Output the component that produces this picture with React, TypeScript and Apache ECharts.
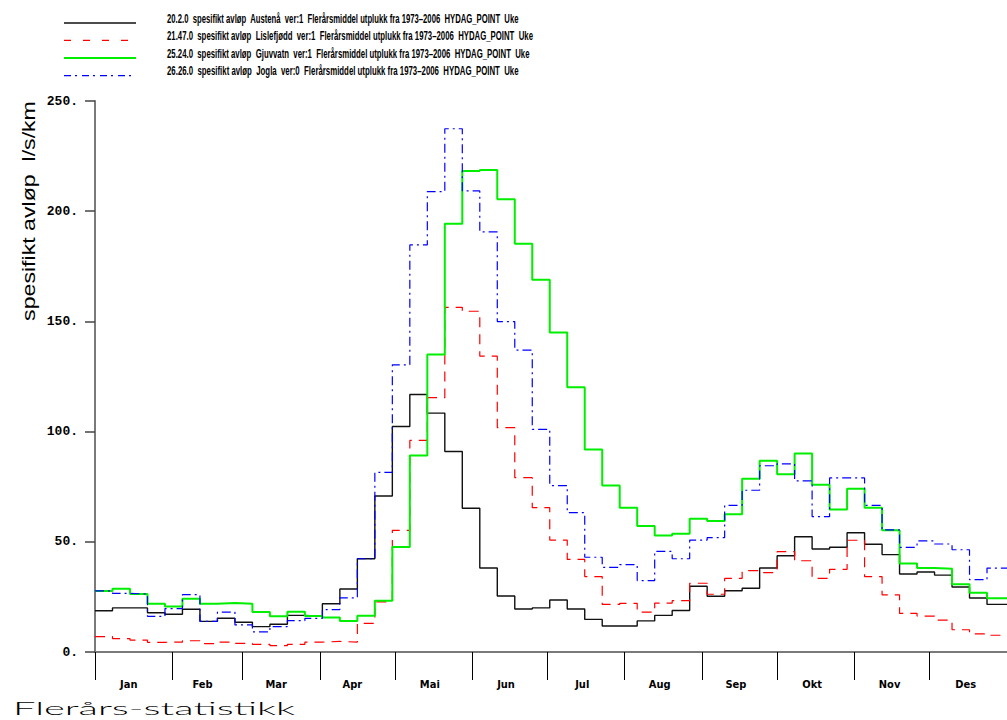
import React, { useEffect, useRef } from "react";
import * as echarts from "echarts";

// ---------- data ----------
const monthNames = ["Jan", "Feb", "Mar", "Apr", "Mai", "Jun", "Jul", "Aug", "Sep", "Okt", "Nov", "Des"];
const monthStartDays = [0, 31, 59, 90, 120, 151, 181, 212, 243, 273, 304, 334, 365];
const monthLabelDays = [13.5, 43, 72.5, 103, 134, 164.5, 195, 226, 256.5, 287, 318, 348.5];
const daysPerWeek = 7;
const yearDays = 365;

const seriesNames = [
  "20.2.0  spesifikt avløp  Austenå  ver:1  Flerårsmiddel utplukk fra 1973–2006  HYDAG_POINT  Uke",
  "21.47.0  spesifikt avløp  Lislefjødd  ver:1  Flerårsmiddel utplukk fra 1973–2006  HYDAG_POINT  Uke",
  "25.24.0  spesifikt avløp  Gjuvvatn  ver:1  Flerårsmiddel utplukk fra 1973–2006  HYDAG_POINT  Uke",
  "26.26.0  spesifikt avløp  Jogla  ver:0  Flerårsmiddel utplukk fra 1973–2006  HYDAG_POINT  Uke",
];

const austena = [18.7, 20, 20, 17.8, 17.1, 19.4, 13.9, 15.3, 13.5, 11.5, 12.6, 16.6, 16.3, 21.9, 28.6, 42.3, 70.8, 102.3, 116.8, 108.4, 91, 65.2, 38.1, 25.4, 19.5, 20, 23.6, 19.5, 14.8, 11.8, 11.8, 14.1, 16.6, 18.8, 29.8, 25.3, 27.8, 28.9, 38.1, 43.7, 52.3, 46.7, 47.5, 54.1, 48.9, 44.2, 35.4, 36.3, 34.9, 29.5, 24.5, 21.6];
const lislefjodd = [7, 6.1, 5.4, 4.4, 4.5, 5.1, 3.8, 4.5, 3.9, 3.5, 2.9, 3.5, 4.5, 4.8, 4.5, 13, 22.7, 55.2, 96, 115.4, 156.4, 154.6, 134.2, 101.8, 79.1, 65.5, 50.8, 42, 34.2, 21.6, 22.1, 18.1, 22.2, 23.3, 31.2, 26.2, 33.4, 36.9, 36, 45.5, 41.4, 33.4, 37.5, 50.7, 34.2, 25.9, 17.5, 16.3, 14.5, 10.1, 8.2, 7.6];
const gjuvvatn = [27.7, 28.7, 26.3, 21.9, 20.7, 24.2, 21.9, 22.2, 21.9, 18.1, 16.2, 18.3, 16.3, 15.7, 14.1, 16.5, 23.3, 47.6, 89.2, 135, 194.3, 218.2, 218.7, 205.4, 185.2, 168.9, 145, 120.1, 91.9, 75.5, 65.4, 57.2, 52.9, 53.7, 60.5, 59.4, 62.5, 78.6, 86.8, 80.6, 90.1, 75.9, 64.7, 74.1, 65.5, 55.2, 40.1, 38.1, 37.8, 30.7, 26.9, 24.4];
const jogla = [27.7, 26.6, 26.3, 16.2, 19.7, 26, 13.9, 18.1, 12.3, 9.1, 11.5, 14.2, 15.3, 19.2, 24.6, 42.3, 81.5, 130.3, 184.7, 208.9, 237.4, 209.2, 190.6, 149.9, 137, 101, 75.5, 63.2, 43, 38.4, 39.6, 32.4, 45.7, 42.3, 50.8, 51.9, 66.5, 73.4, 84.5, 85.4, 77.6, 61.4, 79, 79, 66.5, 55.4, 47.5, 50.4, 49, 46.4, 32.8, 38.1];

const yAxisTitle = "spesifikt avløp  l/s/km";
const bottomTitle = "Flerårs-statistikk";

// ---------- styles ----------
const seriesStyles = [
  { color: "#111111", width: 1.4, type: "solid" as any, legendDash: null as number[] | null },
  { color: "#ff0000", width: 1.2, type: [10, 7] as any, legendDash: [7, 12] },
  { color: "#00ee00", width: 2, type: "solid" as any, legendDash: null },
  { color: "#0000ff", width: 1.2, type: [9, 4, 2, 4] as any, legendDash: [7, 4, 2, 5] },
];

function measure(text: string, font: string): number {
  const ctx = document.createElement("canvas").getContext("2d");
  if (!ctx) return 1;
  ctx.font = font;
  return ctx.measureText(text).width || 1;
}

function toSteps(values: number[]): number[][] {
  const pts = values.map((v, i) => [i * daysPerWeek, v]);
  pts.push([yearDays, values[values.length - 1]]);
  return pts;
}

export default function App() {
  const ref = useRef<HTMLDivElement>(null);

  useEffect(() => {
    if (!ref.current) return;
    const chart = echarts.init(ref.current, undefined, { renderer: "svg" });

    const allValues = [austena, lislefjodd, gjuvvatn, jogla];

    const legendFont = 'bold 12px "Liberation Sans", Arial, sans-serif';
    const legendWidths = [352, 366, 363, 352];
    const legendBaselines = [23, 40.4, 58, 75.6];

    const graphics: any[] = [];
    seriesNames.forEach((name, i) => {
      const st = seriesStyles[i];
      graphics.push({
        type: "line",
        shape: { x1: 64, y1: legendBaselines[i], x2: 136, y2: legendBaselines[i] },
        style: {
          stroke: st.color,
          lineWidth: i === 2 ? 2 : 1.3,
          lineDash: st.legendDash || undefined,
        },
        silent: true,
      });
      const w = measure(name, legendFont);
      graphics.push({
        type: "text",
        x: 167,
        y: legendBaselines[i] - 4.3,
        scaleX: legendWidths[i] / w,
        style: {
          text: name,
          font: legendFont,
          fill: "#000",
          align: "left",
          verticalAlign: "middle",
          textAlign: "left",
          textVerticalAlign: "middle",
        },
        silent: true,
      });
    });

    const yTitleFont = '18px "Liberation Sans", Arial, sans-serif';
    graphics.push({
      type: "text",
      x: 28,
      y: 211,
      rotation: Math.PI / 2,
      scaleX: 220 / measure(yAxisTitle, yTitleFont),
      style: {
        text: yAxisTitle,
        font: yTitleFont,
        fill: "#000",
        align: "center",
        verticalAlign: "middle",
        textAlign: "center",
        textVerticalAlign: "middle",
      },
      silent: true,
    });

    const bottomFont = '300 18px Lato, "Liberation Sans", sans-serif';
    graphics.push({
      type: "text",
      x: 13,
      y: 708.5,
      scaleX: 282 / measure(bottomTitle, bottomFont),
      style: {
        text: bottomTitle,
        font: bottomFont,
        fill: "#000",
        align: "left",
        verticalAlign: "middle",
        textAlign: "left",
        textVerticalAlign: "middle",
      },
      silent: true,
    });

    chart.setOption({
      animation: false,
      backgroundColor: "#ffffff",
      grid: { left: 95, top: 101, width: 920, height: 551, containLabel: false },
      xAxis: {
        type: "value",
        min: 0,
        max: yearDays,
        splitLine: { show: false },
        axisLine: { show: true, lineStyle: { color: "#7a7a7a", width: 2 } },
        axisTick: {
          show: true,
          customValues: monthStartDays,
          length: 28,
          lineStyle: { color: "#000", width: 1 },
        },
        axisLabel: {
          show: true,
          customValues: monthLabelDays,
          formatter: (v: number) => {
            const idx = monthLabelDays.indexOf(v);
            return idx >= 0 ? monthNames[idx] : "";
          },
          margin: 27,
          fontSize: 11,
          fontWeight: "bold",
          fontFamily: '"Liberation Sans Narrow", "DejaVu Sans Condensed", "Liberation Sans", sans-serif',
          color: "#000",
        },
      },
      yAxis: {
        type: "value",
        min: 0,
        max: 250,
        interval: 50,
        splitLine: { show: false },
        axisLine: { show: true, lineStyle: { color: "#7a7a7a", width: 2 } },
        axisTick: { show: true, length: 10, lineStyle: { color: "#444", width: 1.5 } },
        axisLabel: {
          formatter: (v: number) => v + ".",
          margin: 17,
          fontSize: 13,
          fontWeight: "bold",
          fontFamily: '"Liberation Mono", "DejaVu Sans Mono", monospace',
          color: "#000",
        },
      },
      graphic: graphics,
      series: allValues.map((vals, i) => ({
        type: "line",
        name: seriesNames[i],
        step: "end",
        symbol: "none",
        showSymbol: false,
        data: toSteps(vals),
        lineStyle: {
          color: seriesStyles[i].color,
          width: seriesStyles[i].width,
          type: seriesStyles[i].type,
        },
        itemStyle: { color: seriesStyles[i].color },
        z: 2 + i,
      })),
    });

    return () => {
      chart.dispose();
    };
  }, []);

  return (
    <div
      ref={ref}
      style={{ position: "fixed", left: 0, top: 0, width: 1007, height: 720, background: "#fff" }}
    />
  );
}
